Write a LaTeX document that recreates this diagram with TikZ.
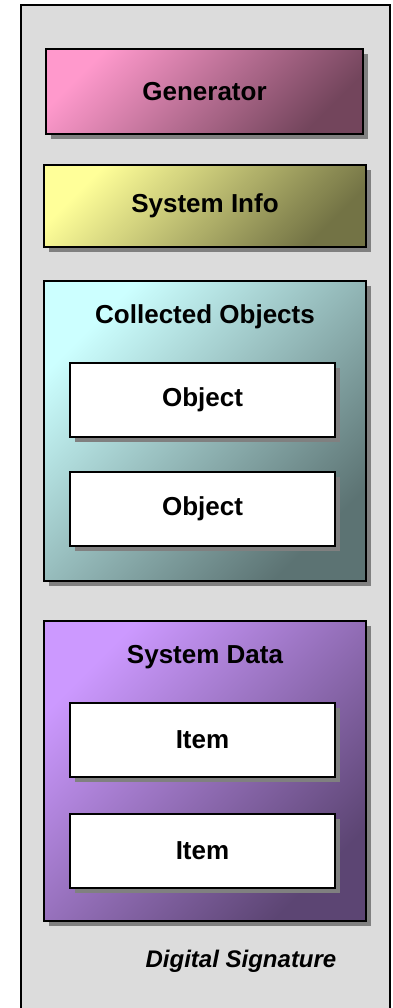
\documentclass[tikz,border=0pt]{standalone}
\usepackage{fontspec}
\setmainfont{Liberation Sans}
\usepackage{xcolor}
\usetikzlibrary{shadows}

\definecolor{pagegray}{HTML}{DCDCDC}
\definecolor{genpink}{HTML}{FF99CC}
\definecolor{infoyellow}{HTML}{FFFF99}
\definecolor{colcyan}{HTML}{CCFFFF}
\definecolor{datapurple}{HTML}{CC99FF}

\tikzset{
    label font/.style={font=\fontsize{13}{15}\selectfont\bfseries},
    shadowbox/.style={draw=black, line width=1pt,
        drop shadow={shadow xshift=2.5pt, shadow yshift=-2.5pt, fill=black!50, opacity=1}},
    colorbox/.style={shadowbox, label font, minimum width=161pt,
        top color=#1, bottom color=#1!45!black, shading angle=45},
    whitebox/.style={shadowbox, label font, fill=white, minimum width=132.5pt, minimum height=37pt},
}

\begin{document}
\begin{tikzpicture}[x=0.5pt,y=-0.5pt]
    \useasboundingbox (0,0) rectangle (392,1008);
    \clip (0,0) rectangle (392,1008);

    % page frame
    \draw[fill=pagegray, line width=1pt] (21,5) rectangle (390,1030);

    \node[colorbox=genpink, minimum width=158.5pt, minimum height=42.5pt] (gen) at (204.5,91.5) {Generator};
    \node[colorbox=infoyellow, minimum height=41pt] (info) at (205,206) {System Info};

    % collected objects
    \node[colorbox=colcyan, minimum height=150pt] (col) at (205,431) {};
    \node[label font] (coltitle) at (205,317) {Collected Objects};
    \node[whitebox] (obj1) at (202.5,400) {Object};
    \node[whitebox] (obj2) at (202.5,509) {Object};

    % system data
    \node[colorbox=datapurple, minimum height=150pt] (data) at (205,771) {};
    \node[label font] (datatitle) at (205,657) {System Data};
    \node[whitebox] (item1) at (202.5,740) {Item};
    \node[whitebox] (item2) at (202.5,851) {Item};

    \node[font=\fontsize{12}{14}\selectfont\bfseries\itshape] (sig) at (241,961) {Digital Signature};
\end{tikzpicture}
\end{document}
